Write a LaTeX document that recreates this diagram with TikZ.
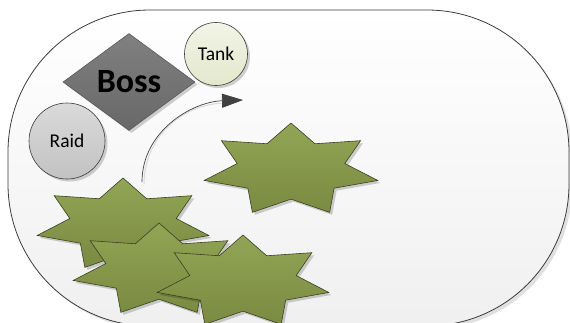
\documentclass[tikz,border=0pt]{standalone}
\usepackage{fontspec}
\setmainfont{Carlito}
\usetikzlibrary{shapes.geometric,shadows,arrows.meta}

\definecolor{frameline}{HTML}{3C3C3C}
\definecolor{olivetop}{HTML}{92A555}
\definecolor{olivebot}{HTML}{7A8A42}
\definecolor{oliveline}{HTML}{3A4020}
\definecolor{bosstop}{HTML}{808080}
\definecolor{bossbot}{HTML}{686868}
\definecolor{tanktop}{HTML}{F2F4E6}
\definecolor{tankbot}{HTML}{E3E8CC}
\definecolor{raidtop}{HTML}{DADADA}
\definecolor{raidbot}{HTML}{C2C2C2}
\definecolor{arrowcol}{HTML}{404040}

% seven-pointed star, centre (#1,#2), horizontal radius #3, vertical radius #4
\newcommand\sevenstarpath[4]{({#1},{#2-#4})
  \foreach \k [evaluate=\k as \r using {isodd(\k) ? 0.62 : 1}] in {1,...,13}
  { -- ({#1+#3*\r*cos(90+\k*180/7)},{#2-#4*\r*sin(90+\k*180/7)}) } -- cycle}

\tikzset{
  softshadow/.style={drop shadow={shadow xshift=2.5pt, shadow yshift=-2.5pt, fill=black, opacity=0.18}},
  starshape/.style={draw=oliveline, line width=0.6pt, top color=olivetop, bottom color=olivebot, softshadow},
  roundbox/.style={circle, draw=frameline, line width=0.6pt, inner sep=0pt, softshadow,
    font=\fontsize{19.5pt}{21pt}\selectfont},
}

\begin{document}
\begin{tikzpicture}[x=1pt,y=-1pt]
\useasboundingbox (0,0) rectangle (570,322);
\clip (0,0) rectangle (570,322);

% rounded outer frame
\path[draw=frameline, line width=0.8pt, top color=white, bottom color=black!6,
  rounded corners=142pt, drop shadow={shadow xshift=3pt, shadow yshift=-3pt, fill=black, opacity=0.12}]
  (8,10) rectangle (569,326);

% the boss
\node[diamond, draw=black!65, line width=0.6pt, top color=bosstop, bottom color=bossbot,
  minimum width=132pt, minimum height=97pt, inner sep=0pt, softshadow,
  font=\fontsize{34pt}{40pt}\selectfont\bfseries] (boss) at (129,82) {Boss};

% tank and raid
\node[roundbox, minimum size=63pt, top color=tanktop, bottom color=tankbot] (tank) at (216,54) {Tank};
\node[roundbox, minimum size=76pt, top color=raidtop, bottom color=raidbot] (raid) at (67,141) {Raid};

% curved movement arrow
\coordinate (arrS) at (142,182);
\coordinate (arrB) at (222,101);
\coordinate (arrE) at (243,100);
\draw[black!15, line width=1pt, transform canvas={shift={(2pt,-2pt)}}] (arrS) to[out=90, in=182] (arrB);
\draw[arrowcol, line width=0.7pt, -{Triangle[length=21pt, width=14pt]}] (arrS) to[out=90, in=182] (arrE);

% adds
\path[starshape] \sevenstarpath{291}{170}{89}{47};
\path[starshape] \sevenstarpath{123}{225}{88}{47};
\path[starshape] \sevenstarpath{159}{270}{88}{47};
\path[starshape] \sevenstarpath{243}{282}{88}{47};
\end{tikzpicture}
\end{document}
